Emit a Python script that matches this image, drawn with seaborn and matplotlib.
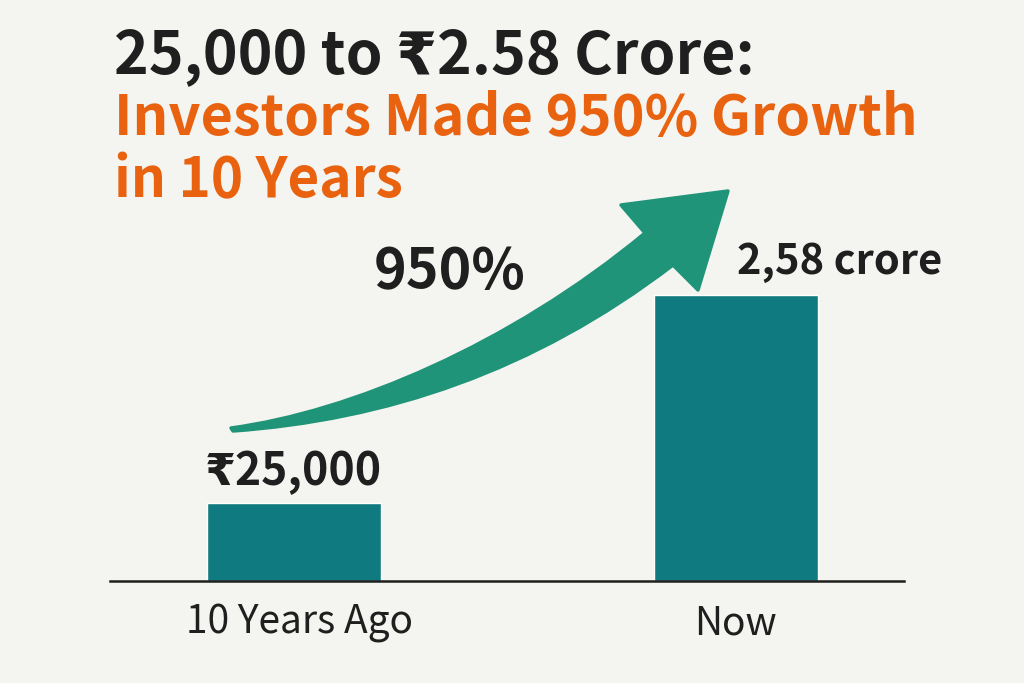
import matplotlib
matplotlib.use("Agg")
import matplotlib.pyplot as plt
from matplotlib.patches import PathPatch
from matplotlib.path import Path
from matplotlib.transforms import Affine2D
import pandas as pd
import seaborn as sns

categories = ["10 Years Ago", "Now"]
bar_heights = [78, 286]
bar_labels = ["₹25,000", "2,58 crore"]
title_lines = ["25,000 to ₹2.58 Crore:", "Investors Made 950% Growth", "in 10 Years"]

BG = "#f4f4f0"
INK = "#1f1f1f"
ORANGE = "#e8620f"
TEAL = "#0f7a80"
GREEN = "#1f9478"

sns.set_theme(style="white")
plt.rcParams["font.family"] = ["Noto Sans CJK SC", "DejaVu Sans"]

fig = plt.figure(figsize=(10.24, 6.83), dpi=100, facecolor=BG)
# pixel coordinates of the picture, y going down, for title and arrow
px = Affine2D().scale(1 / 1024, -1 / 683).translate(0, 1) + fig.transFigure

ax = fig.add_axes([110 / 1024, 1 - 581 / 683, 794 / 1024, 581 / 683])
ax.set_facecolor("none")

df = pd.DataFrame({"when": categories, "height": bar_heights})
sns.barplot(data=df, x="when", y="height", color=TEAL, saturation=1, width=0.38, ax=ax)

ax.set_xlim(-184 / 442, 1 + 168 / 442)
ax.set_ylim(0, 581)
# the two bars are not quite the same width in the picture
for patch, w in zip(ax.patches, [174 / 442, 164 / 442]):
    c = patch.get_x() + patch.get_width() / 2
    patch.set_width(w)
    patch.set_x(c - w / 2)

sns.despine(ax=ax, left=True)
ax.spines["bottom"].set_color(INK)
ax.spines["bottom"].set_linewidth(1.8)
ax.set_xlabel("")
ax.set_ylabel("")
ax.set_yticks([])
ax.set_xticks([6 / 442, 1], categories)
ax.tick_params(axis="x", length=0, pad=16, labelsize=28, labelcolor=INK)

arrow_verts = [
    (231, 428),
    (350, 412), (510, 345), (645, 233),
    (621, 205),
    (728, 191),
    (698, 290),
    (673, 265),
    (533, 372), (385, 420), (233, 431),
    (231, 428),
]
arrow_codes = [
    Path.MOVETO,
    Path.CURVE4, Path.CURVE4, Path.CURVE4,
    Path.LINETO,
    Path.LINETO,
    Path.LINETO,
    Path.LINETO,
    Path.CURVE4, Path.CURVE4, Path.CURVE4,
    Path.CLOSEPOLY,
]
fig.add_artist(PathPatch(Path(arrow_verts, arrow_codes), facecolor=GREEN, edgecolor=GREEN,
                         linewidth=2.5, joinstyle="round", transform=px))

title_colors = [INK, ORANGE, ORANGE]
title_sizes = [42.5, 40.2, 39.5]
for line, y, col, size in zip(title_lines, [74, 135, 197], title_colors, title_sizes):
    fig.text(114, y, line, transform=px, fontsize=size, fontweight="bold", color=col,
             ha="left", va="baseline")

fig.text(450, 288, "950%", transform=px, fontsize=40, fontweight="bold", color=INK,
         ha="center", va="baseline")
fig.text(293, 485, bar_labels[0], transform=px, fontsize=32, fontweight="bold", color=INK,
         ha="center", va="baseline")
fig.text(840, 274, bar_labels[1], transform=px, fontsize=30, fontweight="bold", color=INK,
         ha="center", va="baseline")

fig.savefig("out.png", dpi=100, facecolor=BG)
